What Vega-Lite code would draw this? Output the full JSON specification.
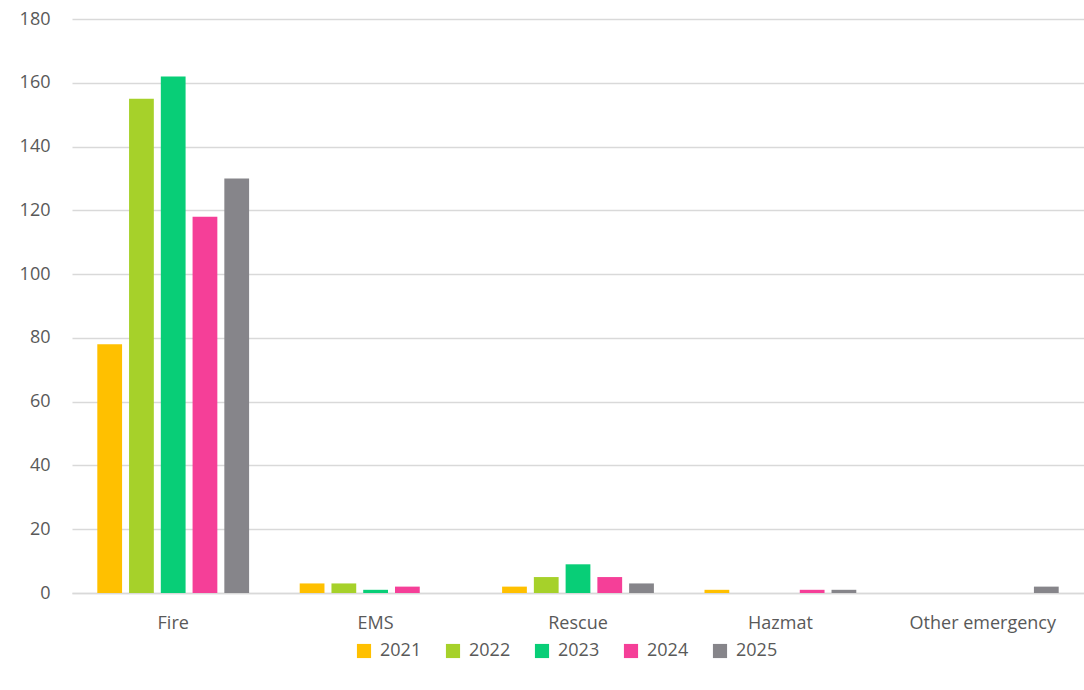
{
  "$schema": "https://vega.github.io/schema/vega-lite/v6.json",
  "autosize": "none",
  "width": 1012,
  "height": 574,
  "padding": {"left": 72, "top": 19, "right": 0, "bottom": 97},
  "background": "white",
  "config": {
    "view": {"stroke": null},
    "font": "Open Sans",
    "axis": {"labelFont": "Open Sans", "labelColor": "#595959", "labelFontSize": 18, "gridColor": "#d9d9d9", "gridWidth": 1.3}
  },
  "data": {"values": [
    {"cat": "Fire", "year": "2021", "v": 78},
    {"cat": "Fire", "year": "2022", "v": 155},
    {"cat": "Fire", "year": "2023", "v": 162},
    {"cat": "Fire", "year": "2024", "v": 118},
    {"cat": "Fire", "year": "2025", "v": 130},
    {"cat": "EMS", "year": "2021", "v": 3},
    {"cat": "EMS", "year": "2022", "v": 3},
    {"cat": "EMS", "year": "2023", "v": 1},
    {"cat": "EMS", "year": "2024", "v": 2},
    {"cat": "EMS", "year": "2025", "v": 0},
    {"cat": "Rescue", "year": "2021", "v": 2},
    {"cat": "Rescue", "year": "2022", "v": 5},
    {"cat": "Rescue", "year": "2023", "v": 9},
    {"cat": "Rescue", "year": "2024", "v": 5},
    {"cat": "Rescue", "year": "2025", "v": 3},
    {"cat": "Hazmat", "year": "2021", "v": 1},
    {"cat": "Hazmat", "year": "2022", "v": 0},
    {"cat": "Hazmat", "year": "2023", "v": 0},
    {"cat": "Hazmat", "year": "2024", "v": 1},
    {"cat": "Hazmat", "year": "2025", "v": 1},
    {"cat": "Other emergency", "year": "2021", "v": 0},
    {"cat": "Other emergency", "year": "2022", "v": 0},
    {"cat": "Other emergency", "year": "2023", "v": 0},
    {"cat": "Other emergency", "year": "2024", "v": 0},
    {"cat": "Other emergency", "year": "2025", "v": 2}
  ]},
  "mark": {"type": "bar", "strokeWidth": 0},
  "encoding": {
    "x": {"field": "cat", "type": "nominal", "sort": ["Fire", "EMS", "Rescue", "Hazmat", "Other emergency"],
      "scale": {"paddingInner": 0.25, "paddingOuter": 0.125},
      "axis": {"title": null, "labelAngle": 0, "ticks": false, "domainColor": "#d9d9d9", "domainWidth": 1.3, "labelPadding": 21}},
    "xOffset": {"field": "year", "type": "nominal", "scale": {"paddingInner": 0.22, "paddingOuter": 0}},
    "y": {"field": "v", "type": "quantitative", "scale": {"domain": [0, 180]},
      "axis": {"title": null, "values": [0,20,40,60,80,100,120,140,160,180], "ticks": false, "domain": false, "labelPadding": 22, "grid": true}},
    "color": {"field": "year", "type": "nominal",
      "scale": {"domain": ["2021","2022","2023","2024","2025"], "range": ["#FFC000", "#A6D12A", "#08CE77", "#F53F98", "#86858A"]},
      "legend": {"title": null, "orient": "none", "direction": "horizontal", "legendX": 283, "legendY": 623,
        "symbolType": "square", "symbolSize": 200, "symbolStrokeWidth": 0, "labelFontSize": 18, "labelColor": "#595959", "labelFont": "Open Sans", "columnPadding": 22, "labelOffset": 7}}
  }
}
